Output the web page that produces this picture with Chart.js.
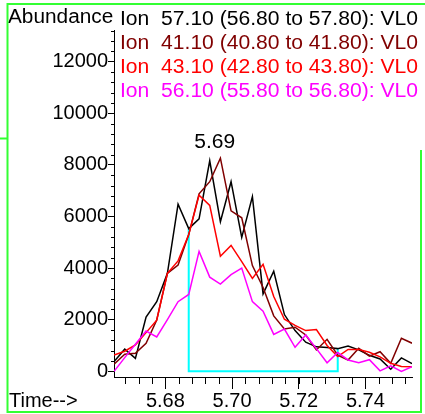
<!DOCTYPE html>
<html>
<head>
<meta charset="utf-8">
<script src="https://cdn.jsdelivr.net/npm/chart.js@4/dist/chart.umd.min.js"></script>
<style>
  html, body { margin: 0; padding: 0; background: #fff; }
  #wrap { width: 425px; height: 414px; position: relative; }
</style>
</head>
<body>
<div id="wrap"><canvas id="ticChart"></canvas></div>
<script>
// retention times (min)
const times = [5.6646, 5.6678, 5.6710, 5.6742, 5.6774, 5.6806, 5.6838, 5.6870, 5.6901, 5.6933,
  5.6965, 5.6997, 5.7029, 5.7061, 5.7093, 5.7125, 5.7157, 5.7189, 5.7221, 5.7253,
  5.7285, 5.7317, 5.7348, 5.7380, 5.7412, 5.7444, 5.7476, 5.7508, 5.7540];

// extracted ion abundances
const ion57 = [380, 860, 500, 2100, 2700, 3800, 6480, 5530, 5910, 8160, 5800, 7350, 5190, 6770, 3000,
  3880, 2200, 1580, 1130, 950, 920, 880, 980, 830, 620, 480, 80, 520, 300];
const ion41 = [280, 660, 700, 1090, 1990, 3800, 4120, 5300, 6880, 7350, 8260, 6220, 5950, 4100, 3250,
  2150, 1640, 1710, 1410, 830, 1240, 630, 440, 890, 590, 760, 310, 1280, 1090];
const ion43 = [630, 780, 1020, 1500, 1980, 3800, 4280, 5300, 6830, 6430, 4460, 4880, 4250, 3600, 4150,
  2900, 2020, 1780, 1580, 1620, 1000, 570, 850, 850, 740, 560, 310, 190, 180];
const ion56 = [0, 530, 1050, 1560, 1330, 2000, 2700, 2980, 4650, 3650, 3380, 3750, 4000, 2700, 2330,
  1430, 1640, 930, 1410, 880, 330, 730, 440, 330, 450, 20, 210, 0, 180];

const ionLabels = [
  "Ion  57.10 (56.80 to 57.80): VL0",
  "Ion  41.10 (40.80 to 41.80): VL0",
  "Ion  43.10 (42.80 to 43.80): VL0",
  "Ion  56.10 (55.80 to 56.80): VL0"
];
const xTicks = [5.68, 5.70, 5.72, 5.74];
const yTicks = [0, 2000, 4000, 6000, 8000, 10000, 12000];

// integration window (indexes into times) and peak label
const integStart = 7;
const integEnd = 21;
const peakLabel = "5.69";
const peakTime = 5.6948;
const peakLabelValue = 8650;

const FONT = "'Liberation Sans', Arial, sans-serif";

function toPoints(values) {
  return values.map((v, i) => ({ x: times[i], y: v }));
}

// minor tick marks on both axes
const minorTicks = {
  id: "minorTicks",
  afterDraw(chart) {
    const ctx = chart.ctx;
    const xs = chart.scales.x;
    const ys = chart.scales.y;
    ctx.save();
    ctx.strokeStyle = "#000";
    ctx.lineWidth = 1;
    ctx.beginPath();
    for (let v = 5.668; v < xs.max; v += 0.004) {
      const px = Math.round(xs.getPixelForValue(v)) + 0.5;
      ctx.moveTo(px, xs.top);
      ctx.lineTo(px, xs.top + 7);
    }
    for (let v = 400; v < ys.max; v += 400) {
      if (v % 2000 === 0) continue;
      const py = Math.round(ys.getPixelForValue(v)) + 0.5;
      ctx.moveTo(ys.right, py);
      ctx.lineTo(ys.right - 3, py);
    }
    ctx.stroke();
    ctx.restore();
  }
};

// titles, ion list, peak label and frame
const annotations = {
  id: "annotations",
  afterDraw(chart) {
    const ctx = chart.ctx;
    const xs = chart.scales.x;
    const ys = chart.scales.y;
    ctx.save();
    ctx.textBaseline = "alphabetic";
    ctx.textAlign = "left";

    function text(str, x, y, color, sx) {
      ctx.save();
      ctx.translate(x, y);
      ctx.scale(sx, 1);
      ctx.fillStyle = color;
      ctx.font = "20px " + FONT;
      ctx.fillText(str, 0, 0);
      ctx.restore();
    }

    text("Abundance", 8, 23, "#000", 1.04);
    chart.data.datasets.forEach((ds, i) => {
      if (i < ionLabels.length) text(ds.label, 120, 25 + i * 24, ds.borderColor, 1.055);
    });
    text("Time-->", 9, 407, "#000", 1.0);

    ctx.textAlign = "center";
    text(peakLabel, xs.getPixelForValue(peakTime), ys.getPixelForValue(peakLabelValue), "#000", 1.05);

    // green frame
    ctx.strokeStyle = "#33ff33";
    ctx.lineWidth = 2;
    ctx.beginPath();
    ctx.moveTo(425, 4);
    ctx.lineTo(7.5, 4);
    ctx.lineTo(7.5, 412);
    ctx.lineTo(421, 412);
    ctx.lineTo(421, 150);
    ctx.moveTo(0, 138.5);
    ctx.lineTo(7.5, 138.5);
    ctx.stroke();
    ctx.restore();
  }
};

const ctx = document.getElementById("ticChart");

new Chart(ctx, {
  type: "line",
  data: {
    datasets: [
      { label: ionLabels[0], data: toPoints(ion57), borderColor: "#000000", order: 4 },
      { label: ionLabels[1], data: toPoints(ion41), borderColor: "#800000", order: 3 },
      { label: ionLabels[2], data: toPoints(ion43), borderColor: "#ff0000", order: 2 },
      { label: ionLabels[3], data: toPoints(ion56), borderColor: "#ff00ff", order: 1 },
      {
        label: "integration",
        data: [
          { x: times[integStart], y: ion57[integStart] },
          { x: times[integStart], y: 0 },
          { x: times[integEnd], y: 0 },
          { x: times[integEnd], y: ion57[integEnd] }
        ],
        borderColor: "#00ffff",
        borderWidth: 2,
        order: 5
      }
    ]
  },
  options: {
    responsive: true,
    maintainAspectRatio: false,
    animation: false,
    devicePixelRatio: 1,
    layout: { padding: { top: 30, right: 13, left: 0, bottom: 0 } },
    elements: {
      line: { borderWidth: 1.5, tension: 0, fill: false },
      point: { radius: 0, hoverRadius: 0 }
    },
    scales: {
      x: {
        type: "linear",
        min: 5.66458,
        max: 5.75398,
        afterBuildTicks: (s) => { s.ticks = xTicks.map((v) => ({ value: v })); },
        afterFit: (s) => { s.height = 37; },
        ticks: {
          color: "#000",
          font: { size: 20, family: FONT },
          padding: 0,
          maxRotation: 0,
          autoSkip: false,
          callback: (v) => Number(v).toFixed(2)
        },
        grid: { drawOnChartArea: false, tickLength: 12, tickColor: "#000" },
        border: { color: "#000", width: 1 }
      },
      y: {
        min: -220,
        max: 13230,
        afterBuildTicks: (s) => { s.ticks = yTicks.map((v) => ({ value: v })); },
        afterFit: (s) => { s.width = 114; },
        ticks: {
          color: "#000",
          font: { size: 20, family: FONT },
          padding: 0,
          callback: (v) => String(v)
        },
        grid: { drawOnChartArea: false, tickLength: 6, tickColor: "#000" },
        border: { color: "#000", width: 1 }
      }
    },
    plugins: {
      legend: { display: false },
      tooltip: { enabled: false }
    }
  },
  plugins: [minorTicks, annotations]
});
</script>
</body>
</html>
